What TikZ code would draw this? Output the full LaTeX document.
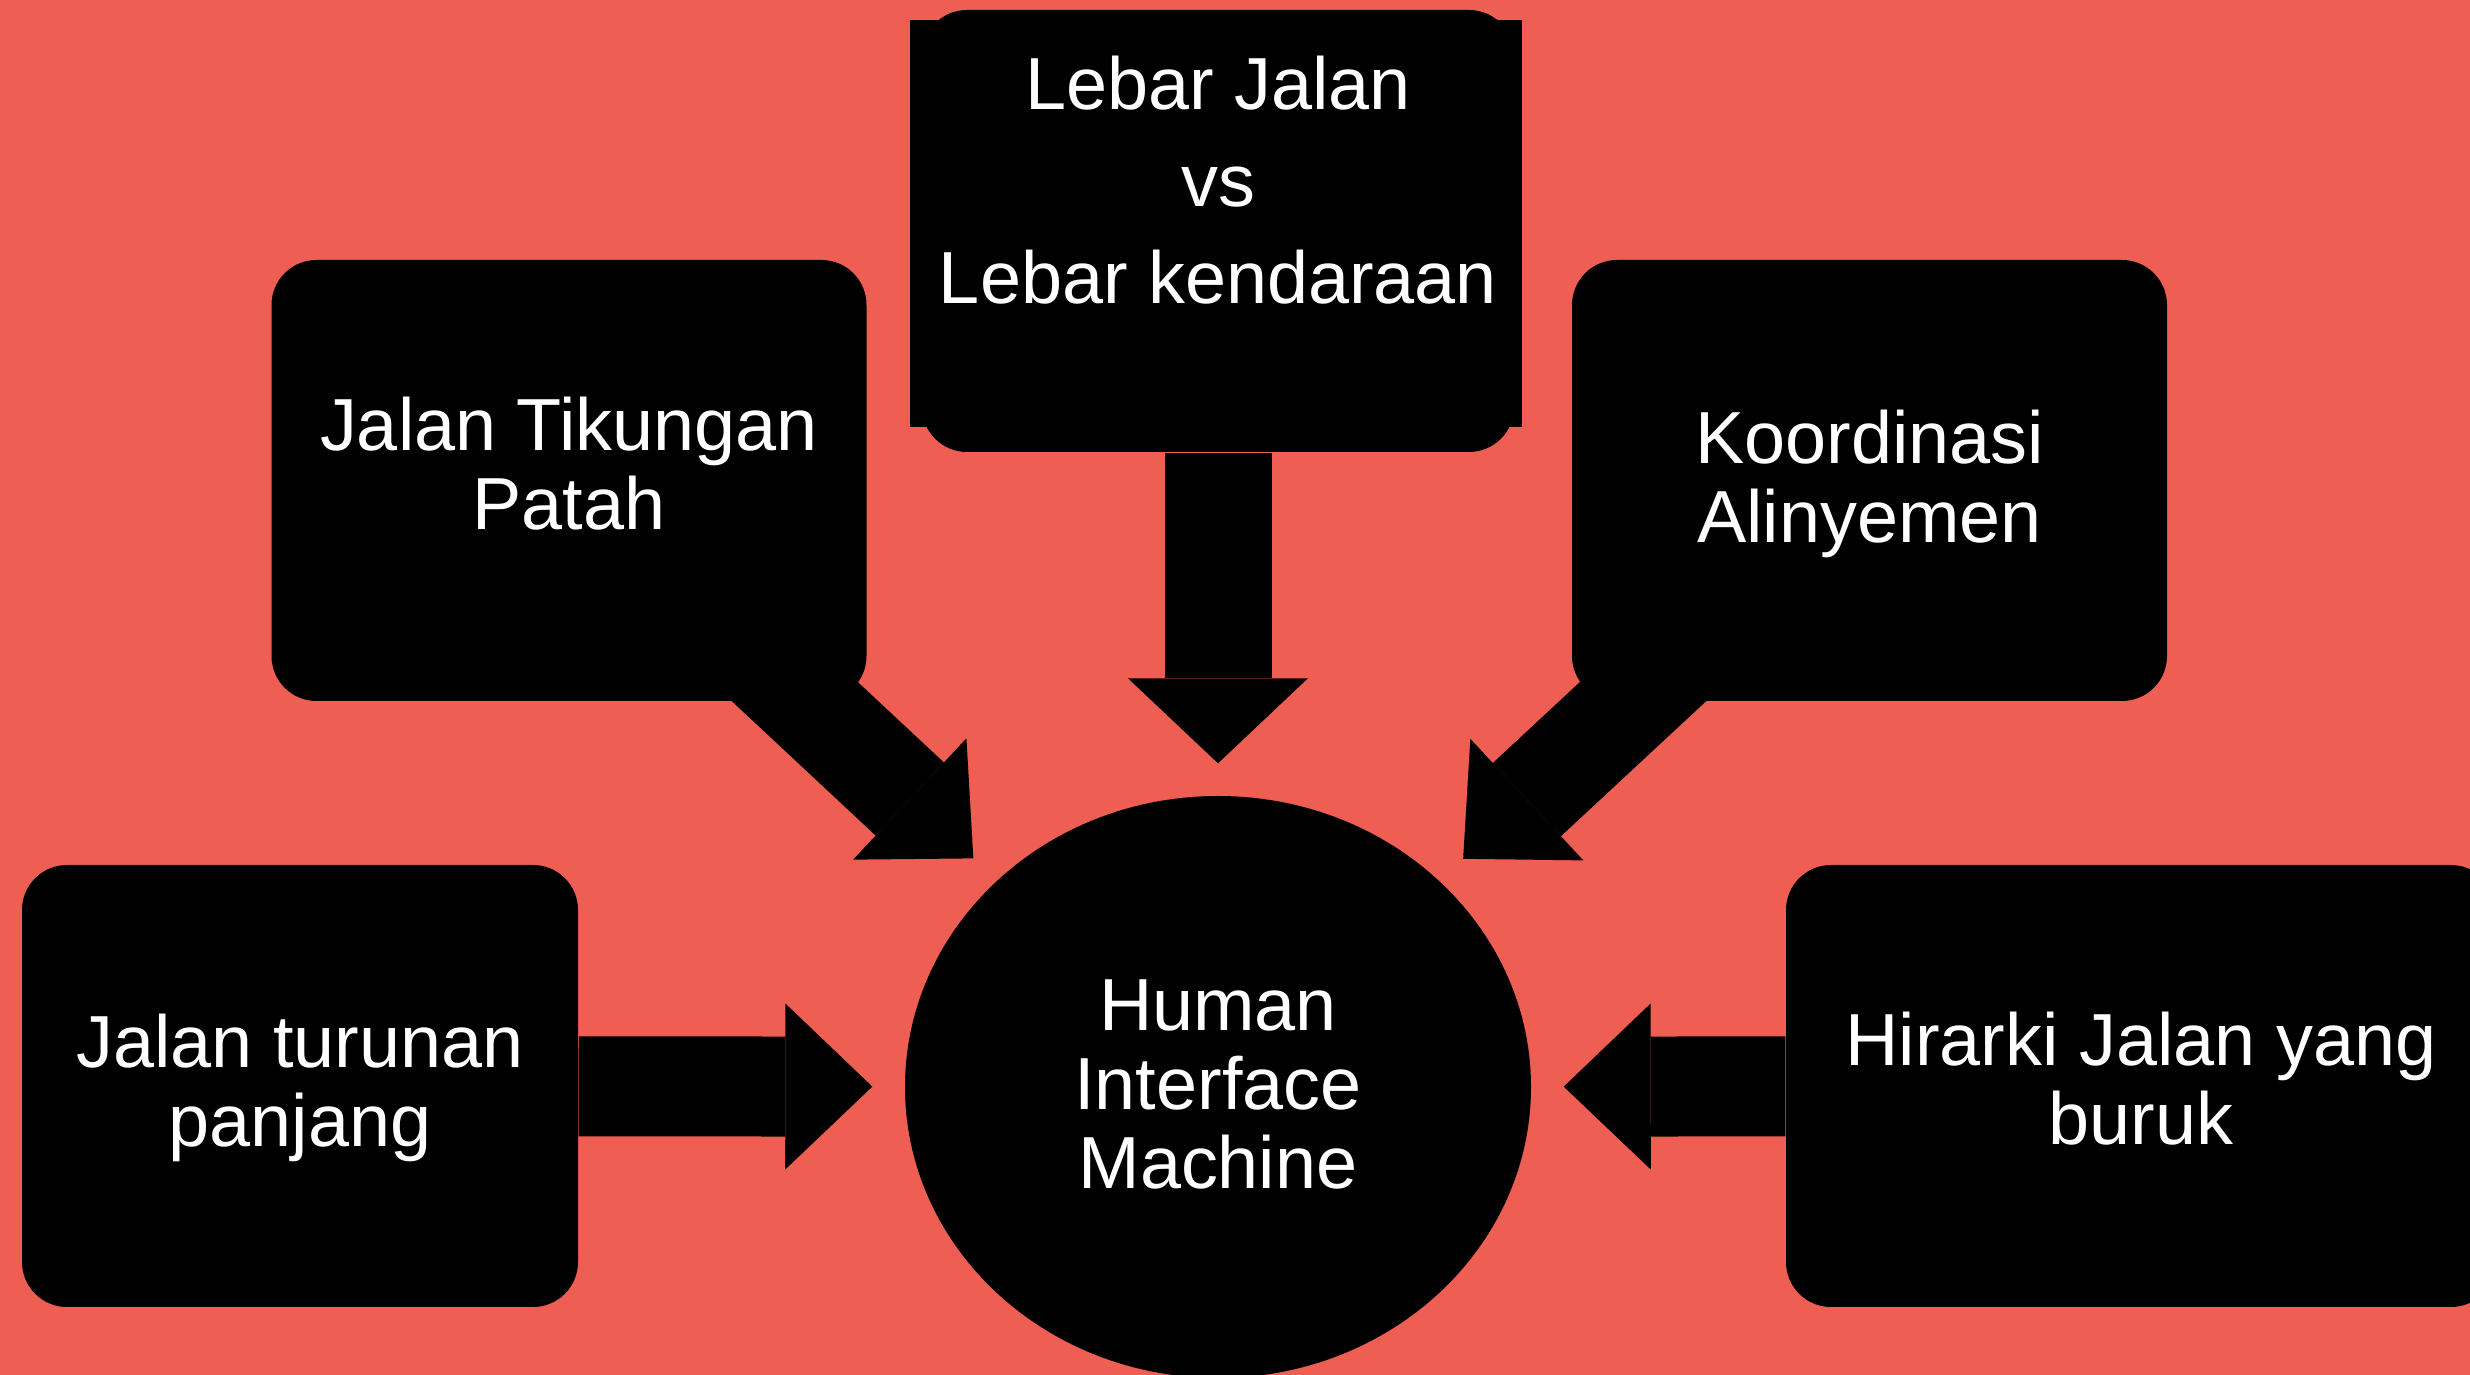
\documentclass[tikz,border=0pt]{standalone}
\usepackage{fontspec}
\setmainfont{Liberation Sans}
\usetikzlibrary{arrows.meta,shapes.geometric}
\definecolor{backdrop}{HTML}{EF5E52}
\tikzset{
  factor/.style={
    fill=black,
    rounded corners=0.45cm,
    minimum width=5.95cm,
    minimum height=4.41cm,
    inner sep=0pt,
    align=center,
    text=white,
    text depth=0pt,
    font=\fontsize{21}{22.5}\selectfont
  },
  hub/.style={
    ellipse,
    fill=black,
    minimum width=6.26cm,
    minimum height=5.82cm,
    inner sep=0pt,
    align=center,
    text=white,
    text height=2.04cm,
    text depth=0pt,
    font=\fontsize{21}{22.5}\selectfont
  },
  push/.style={
    -{Triangle[length=0.87cm,width=1.66cm,line width=0pt]},
    line width=1cm,
    shorten >=0.32cm
  }
}

\begin{document}
\begin{tikzpicture}
  \useasboundingbox (0,0) rectangle (24.70,-13.75);
  \fill[backdrop] (0,0) rectangle (24.70,-13.75);

  % square block behind the top card
  \fill[black] (9.10,-0.20) rectangle (15.22,-4.27);

  \node[factor, minimum width=5.92cm, minimum height=4.42cm, text height=1.46cm,
    font=\fontsize{21}{27.6}\selectfont] (lebar) at (12.18,-2.31)
    {Lebar Jalan\\vs\\Lebar kendaraan};
  \node[factor, text height=0.99cm] (tikungan) at (5.69,-4.805)
    {Jalan Tikungan\\Patah};
  \node[factor, text height=1.25cm] (koordinasi) at (18.695,-4.805)
    {Koordinasi\\Alinyemen};
  \node[factor, minimum width=5.56cm, minimum height=4.42cm, text height=1.22cm]
    (turunan) at (3.00,-10.86) {Jalan turunan\\panjang};
  \node[factor, minimum width=7.10cm, minimum height=4.42cm, text height=1.18cm]
    (hirarki) at (21.41,-10.86) {Hirarki Jalan yang\\buruk};
  \node[hub] (him) at (12.18,-10.87) {Human\\Interface\\Machine};

  \draw[push, line width=1.07cm,
    -{Triangle[length=0.85cm,width=1.80cm,line width=0pt]}] (lebar) -- (him);
  \draw[push, shorten <=-0.6cm] (tikungan) -- (him);
  \draw[push, shorten <=-0.6cm] (koordinasi) -- (him);
  \draw[push] (turunan) -- (him);
  \draw[push] (hirarki) -- (him);
\end{tikzpicture}
\end{document}
